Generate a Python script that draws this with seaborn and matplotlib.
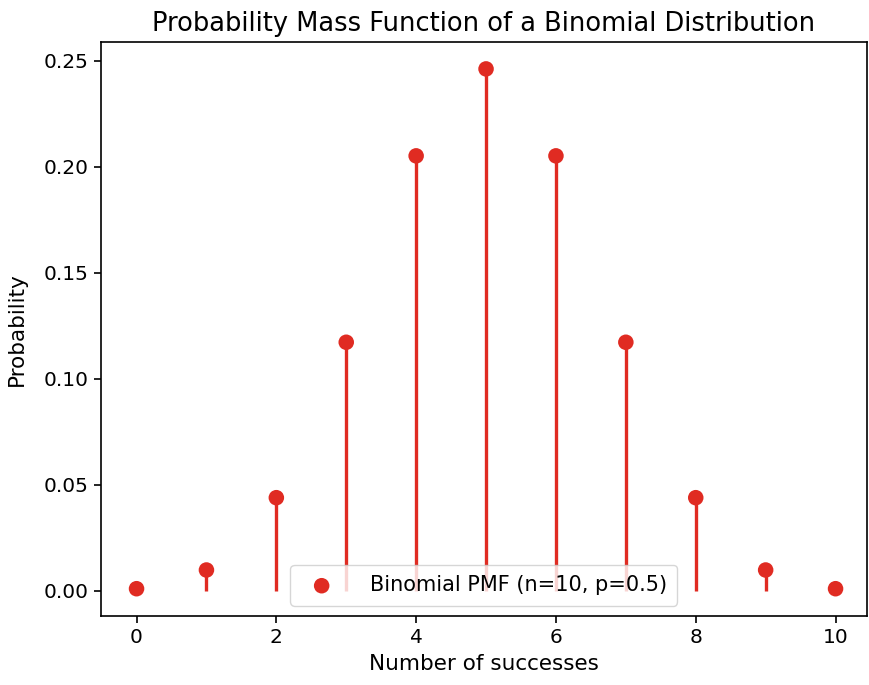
import matplotlib
matplotlib.use("Agg")
import matplotlib.pyplot as plt
import seaborn as sns
import pandas as pd

# Number of successes and their probabilities
successes = [0, 1, 2, 3, 4, 5, 6, 7, 8, 9, 10]
probabilities = [0.00098, 0.0098, 0.0439, 0.1172, 0.2051, 0.2461,
                 0.2051, 0.1172, 0.0439, 0.0098, 0.00098]
series_label = "Binomial PMF (n=10, p=0.5)"

df = pd.DataFrame({"k": successes, "pmf": probabilities})
color = "#e02b22"

sns.set_style("ticks", {"axes.edgecolor": "black", "text.color": "black",
                        "axes.labelcolor": "black", "xtick.color": "black",
                        "ytick.color": "black"})
plt.rcParams["font.family"] = ["DejaVu Sans"]

fig = plt.figure(figsize=(8.69, 6.85), dpi=100)
ax = fig.add_axes([0.1157, 0.1007, 0.882, 0.838])

ax.vlines(df["k"], 0, df["pmf"], color=color, linewidth=2.4, zorder=2)
sns.scatterplot(data=df, x="k", y="pmf", ax=ax, color=color, s=125,
                edgecolor="none", label=series_label, zorder=3)

ax.set_xlim(-0.515, 10.45)
ax.set_ylim(-0.0119, 0.2588)
ax.set_xticks([0, 2, 4, 6, 8, 10])
ax.set_yticks([0.0, 0.05, 0.10, 0.15, 0.20, 0.25])
ax.set_yticklabels(["0.00", "0.05", "0.10", "0.15", "0.20", "0.25"])
ax.tick_params(labelsize=14.5, length=5, width=1.2, colors="black")
for s in ax.spines.values():
    s.set_visible(True)
    s.set_linewidth(1.2)
    s.set_color("black")

ax.set_xlabel("Number of successes", fontsize=15.5, labelpad=5)
ax.set_ylabel("Probability", fontsize=15.5, labelpad=12)
ax.set_title("Probability Mass Function of a Binomial Distribution",
             fontsize=18.5, pad=8)
leg = ax.legend(loc="lower center", fontsize=15, frameon=True,
                borderpad=0.5, handletextpad=1.3)
leg.get_frame().set_edgecolor("#cccccc")

fig.savefig("out.png", dpi=100)
